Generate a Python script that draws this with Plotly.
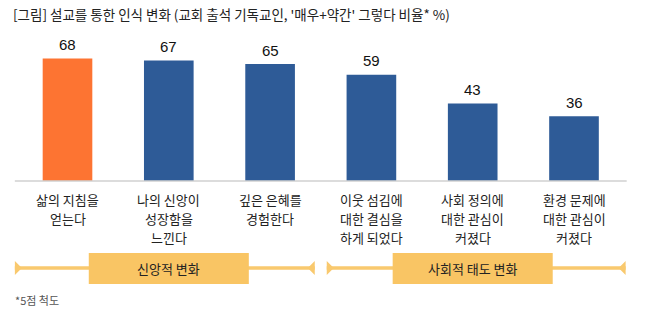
import plotly.graph_objects as go

# ---- data ----
categories = ["삶의 지침을 얻는다", "나의 신앙이 성장함을 느낀다", "깊은 은혜를 경험한다",
              "이웃 섬김에 대한 결심을 하게 되었다", "사회 정의에 대한 관심이 커졌다",
              "환경 문제에 대한 관심이 커졌다"]
label_lines = [["삶의 지침을", "얻는다"],
               ["나의 신앙이", "성장함을", "느낀다"],
               ["깊은 은혜를", "경험한다"],
               ["이웃 섬김에", "대한 결심을", "하게 되었다"],
               ["사회 정의에", "대한 관심이", "커졌다"],
               ["환경 문제에", "대한 관심이", "커졌다"]]
values = [68, 67, 65, 59, 43, 36]
highlight = [True, False, False, False, False, False]
groups = ["신앙적 변화", "사회적 태도 변화"]
group_members = [[0, 1, 2], [3, 4, 5]]
title_text = "[그림] 설교를 통한 인식 변화 (교회 출석 기독교인, '매우+약간' 그렇다 비율* %)"
footnote = "*5점 척도"

# ---- layout geometry ----
FW, FH = 647, 322
L, R, T, Bm = 10, 10, 37, 141
W = FW - L - R
H = FH - T - Bm
BOTTOM = T + H
XR = [-0.5676, -0.5676 + W / 101.3]
YR = [0, 80]

ORANGE = "#FD7432"
BLUE = "#2E5B97"
BAND = "#F9C564"
LINE = "#F9C96E"
FONT = "Noto Sans CJK KR, Noto Sans, sans-serif"
NUMFONT = "Liberation Sans, Arial, sans-serif"


def px_x_from_cat(i):
    return L + (i - XR[0]) * W / (XR[1] - XR[0])


def paper_x(px):
    return (px - L) / W


def paper_y(py):
    return (BOTTOM - py) / H


xs = list(range(len(categories)))
fig = go.Figure(go.Bar(
    x=xs, y=values,
    marker=dict(color=[ORANGE if h else BLUE for h in highlight], line=dict(width=0)),
    width=0.49, hoverinfo="skip"))

annotations = []
shapes = []

# value labels
for i, v in enumerate(values):
    annotations.append(dict(x=i, y=v, xref="x", yref="y", text=str(v), showarrow=False,
                            yanchor="middle", yshift=14,
                            font=dict(family=NUMFONT, size=15, color="#111")))

# category labels (one annotation per line)
for i, lines in enumerate(label_lines):
    for k, ln in enumerate(lines):
        annotations.append(dict(x=i, y=paper_y(199 + 19 * k), xref="x", yref="paper",
                                text=ln, showarrow=False, yanchor="middle", xanchor="center",
                                font=dict(family=FONT, size=13, color="#222")))

# baseline axis
shapes.append(dict(type="line", xref="paper", yref="paper",
                   x0=paper_x(px_x_from_cat(-0.52)), x1=paper_x(px_x_from_cat(5.52)),
                   y0=0, y1=0, line=dict(color="#D0D0D0", width=1.5)))

# group bands
LINE_Y = 268
for g, members in zip(groups, group_members):
    first, last = members[0], members[-1]
    center = (first + last) / 2
    lx = px_x_from_cat(first - 0.5) + (2 if first > 0 else -2)
    rx = px_x_from_cat(last + 0.5) - (6 if last < len(categories) - 1 else -1)
    if first > 0:
        lx = px_x_from_cat(first - 0.5) + 6
    shapes.append(dict(type="line", xref="paper", yref="paper",
                       x0=paper_x(lx), x1=paper_x(rx), y0=paper_y(LINE_Y), y1=paper_y(LINE_Y),
                       line=dict(color=LINE, width=3.5)))
    # caps
    for ex, d in ((lx, 1), (rx, -1)):
        path = "M {} {} L {} {} L {} {} Z".format(
            paper_x(ex), paper_y(LINE_Y - 7),
            paper_x(ex), paper_y(LINE_Y + 7),
            paper_x(ex + 7 * d), paper_y(LINE_Y))
        shapes.append(dict(type="path", xref="paper", yref="paper", path=path,
                           fillcolor=LINE, line=dict(width=0)))
    bx0 = px_x_from_cat(center - 0.79)
    bx1 = px_x_from_cat(center + 0.79)
    shapes.append(dict(type="rect", xref="paper", yref="paper",
                       x0=paper_x(bx0), x1=paper_x(bx1), y0=paper_y(284), y1=paper_y(253),
                       fillcolor=BAND, line=dict(width=0)))
    annotations.append(dict(x=center, y=paper_y(LINE_Y), xref="x", yref="paper", text=g,
                            showarrow=False, yanchor="middle", xanchor="center",
                            font=dict(family=FONT, size=13, color="#222")))

# footnote
annotations.append(dict(x=paper_x(13), y=paper_y(300), xref="paper", yref="paper",
                        text=footnote, showarrow=False, xanchor="left", yanchor="middle",
                        font=dict(family=FONT, size=11, color="#555")))

fig.update_layout(
    width=FW, height=FH,
    margin=dict(l=L, r=R, t=T, b=Bm, pad=0),
    paper_bgcolor="white", plot_bgcolor="white",
    showlegend=False,
    title=dict(text=title_text, x=13 / FW, xanchor="left", xref="container",
               y=1 - 15 / FH, yanchor="middle", yref="container",
               font=dict(family=FONT, size=13.5, color="#222")),
    xaxis=dict(range=XR, showticklabels=False, showgrid=False, zeroline=False,
               showline=False, ticks=""),
    yaxis=dict(range=YR, showticklabels=False, showgrid=False, zeroline=False,
               showline=False, ticks=""),
    annotations=annotations, shapes=shapes,
)

fig.write_html("out.html")
